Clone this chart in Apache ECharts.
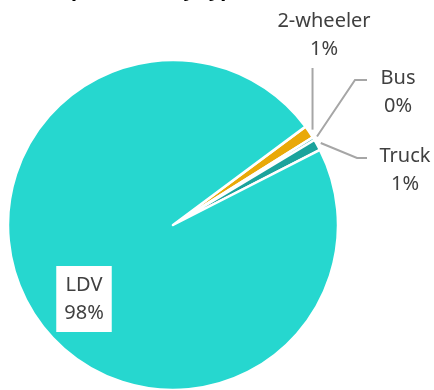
<!DOCTYPE html>
<html>
<head>
<meta charset="utf-8">
<script src="https://cdn.jsdelivr.net/npm/echarts@6/dist/echarts.min.js"></script>
<style>
  html, body { margin: 0; padding: 0; background: #fff; }
  #chart { width: 434px; height: 390px; }
</style>
</head>
<body>
<div id="chart"></div>
<script>
// Vehicle categories and their share of the total
const categories = ['2-wheeler', 'Bus', 'Truck', 'LDV'];
const shares = [1.25, 0.3, 1.1, 97.35];
const sliceColors = ['#E9A908', '#1FA8A0', '#1BA39C', '#26D7CF'];

const CENTER = [173, 225];

// Where each label block sits and how its leader line bends
const labelSpots = {
  '2-wheeler': { x: 324, y: 35, bends: p => [[p[0], 68]] },
  'Bus':       { x: 398, y: 92, bends: () => [[355, 80], [367, 80]] },
  'Truck':     { x: 405, y: 170, bends: () => [[357, 158], [367, 158]] },
  'LDV':       { x: 84, y: 299 }
};

const chart = echarts.init(document.getElementById('chart'));

chart.setOption({
  animation: false,
  title: {
    text: 'Transportation by type (share of stock)',
    left: 12,
    top: -25,
    textStyle: { fontFamily: 'Noto Sans', fontSize: 20, fontWeight: 'bold', color: '#000' }
  },
  series: [{
    type: 'pie',
    center: CENTER,
    radius: 165,
    startAngle: 36.6,
    clockwise: true,
    avoidLabelOverlap: false,
    percentPrecision: 0,
    itemStyle: { borderColor: '#fff', borderWidth: 2.5 },
    label: {
      show: true,
      formatter: '{b}\n{d}%',
      fontFamily: 'Noto Sans',
      fontSize: 20,
      lineHeight: 28,
      color: '#404040',
      align: 'center'
    },
    labelLine: {
      show: true,
      lineStyle: { color: '#A6A6A6', width: 2 }
    },
    labelLayout: function (params) {
      const name = categories[params.dataIndex];
      const spot = labelSpots[name];
      const out = { x: spot.x, y: spot.y, align: 'center', verticalAlign: 'middle' };
      if (spot.bends && params.labelLinePoints) {
        const p = params.labelLinePoints[0];
        const dx = p[0] - CENTER[0], dy = p[1] - CENTER[1];
        const len = Math.sqrt(dx * dx + dy * dy) || 1;
        const start = [p[0] + dx / len * 4, p[1] + dy / len * 4];
        out.labelLinePoints = [start].concat(spot.bends(start));
      }
      return out;
    },
    data: categories.map((name, i) => {
      const item = { name: name, value: shares[i], itemStyle: { color: sliceColors[i] } };
      if (name === 'LDV') {
        item.label = { position: 'inside', backgroundColor: '#fff', padding: [5, 8] };
        item.labelLine = { show: false };
      }
      return item;
    })
  }]
});
</script>
</body>
</html>
